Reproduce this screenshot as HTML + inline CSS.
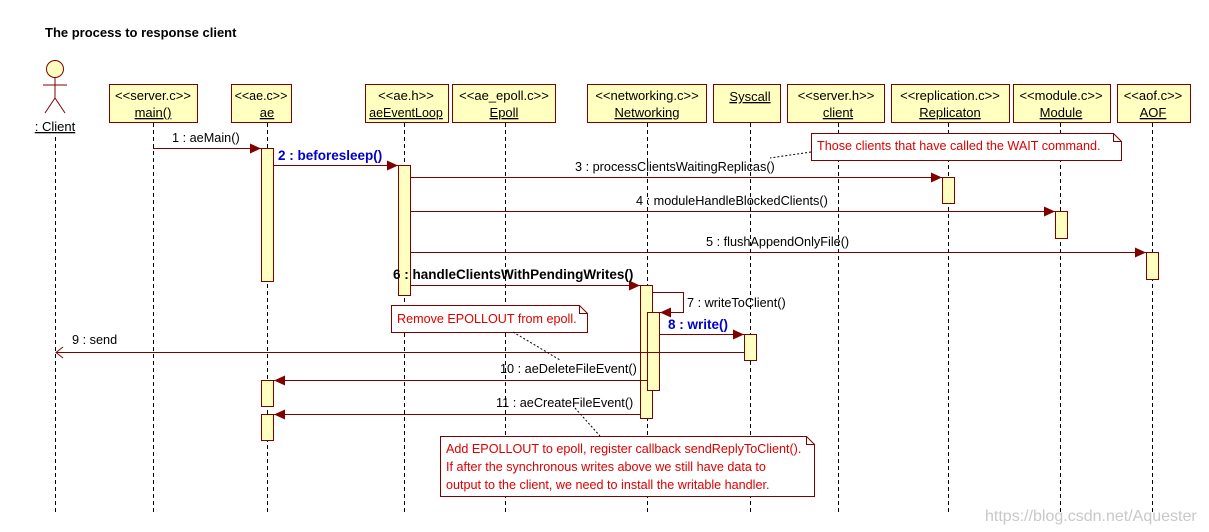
<!DOCTYPE html>
<html><head><meta charset="utf-8"><style>
html,body{margin:0;padding:0;background:#fff;}
svg{display:block;font-family:"Liberation Sans",sans-serif;}
</style></head><body>
<svg width="1209" height="532" viewBox="0 0 1209 532" xmlns="http://www.w3.org/2000/svg">
<defs>
<marker id="a" markerWidth="12" markerHeight="10" refX="11" refY="5" orient="auto" markerUnits="userSpaceOnUse"><path d="M0,0 L11,5 L0,10 Z" fill="#800000"/></marker>
</defs>
<text x="45" y="37" font-size="13" font-weight="bold" fill="#000">The process to response client</text>
<g stroke="#000" stroke-dasharray="4,3" stroke-width="1">
<line x1="55.5" y1="137" x2="55.5" y2="512"/>
<line x1="153.5" y1="123" x2="153.5" y2="512"/>
<line x1="267.5" y1="123" x2="267.5" y2="512"/>
<line x1="404.5" y1="123" x2="404.5" y2="512"/>
<line x1="505.5" y1="123" x2="505.5" y2="512"/>
<line x1="647.5" y1="123" x2="647.5" y2="512"/>
<line x1="750.5" y1="123" x2="750.5" y2="512"/>
<line x1="838.5" y1="123" x2="838.5" y2="512"/>
<line x1="948.5" y1="123" x2="948.5" y2="512"/>
<line x1="1060.5" y1="123" x2="1060.5" y2="512"/>
<line x1="1152.5" y1="123" x2="1152.5" y2="512"/>
</g>
<g stroke="#800000" fill="none" stroke-width="1">
<circle cx="55" cy="69" r="8.5" fill="#ffffc0"/>
<line x1="55" y1="78" x2="55" y2="98"/><line x1="43" y1="85" x2="67" y2="85"/>
<line x1="55" y1="98" x2="45" y2="113"/><line x1="55" y1="98" x2="65" y2="113"/>
</g>
<text x="55" y="131" font-size="13" text-anchor="middle" text-decoration="underline">: Client</text>
<g fill="#ffffc0" stroke="#800000" stroke-width="1">
<rect x="109.5" y="84.5" width="88" height="38"/>
<rect x="231.5" y="84.5" width="60" height="38"/>
<rect x="365.5" y="84.5" width="83" height="38"/>
<rect x="452.5" y="84.5" width="103" height="38"/>
<rect x="587.5" y="84.5" width="119" height="38"/>
<rect x="713.5" y="84.5" width="67" height="38"/>
<rect x="787.5" y="84.5" width="97" height="38"/>
<rect x="891.5" y="84.5" width="118" height="38"/>
<rect x="1013.5" y="84.5" width="97" height="38"/>
<rect x="1117.5" y="84.5" width="73" height="38"/>
</g>
<g font-size="13" text-anchor="middle" fill="#000">
<text x="153" y="100">&lt;&lt;server.c&gt;&gt;</text><text x="153" y="117" text-decoration="underline">main()</text>
<text x="261" y="100" font-size="12.5">&lt;&lt;ae.c&gt;&gt;</text><text x="267" y="117" text-decoration="underline">ae</text>
<text x="406" y="100">&lt;&lt;ae.h&gt;&gt;</text><text x="406" y="117" font-size="12.5" text-decoration="underline">aeEventLoop</text>
<text x="504" y="100">&lt;&lt;ae_epoll.c&gt;&gt;</text><text x="504" y="117" text-decoration="underline">Epoll</text>
<text x="647" y="100">&lt;&lt;networking.c&gt;&gt;</text><text x="647" y="117" text-decoration="underline">Networking</text>
<text x="750" y="101" text-decoration="underline">Syscall</text>
<text x="836" y="100">&lt;&lt;server.h&gt;&gt;</text><text x="838" y="117" text-decoration="underline">client</text>
<text x="950" y="100">&lt;&lt;replication.c&gt;&gt;</text><text x="950" y="117" text-decoration="underline">Replicaton</text>
<text x="1061" y="100">&lt;&lt;module.c&gt;&gt;</text><text x="1061" y="117" text-decoration="underline">Module</text>
<text x="1153" y="100">&lt;&lt;aof.c&gt;&gt;</text><text x="1153" y="117" text-decoration="underline">AOF</text>
</g>
<g fill="#ffffc0" stroke="#800000" stroke-width="1">
<rect x="261.5" y="148.5" width="12" height="133"/>
<rect x="398.5" y="165.5" width="12" height="130"/>
<rect x="942.5" y="177.5" width="12" height="26"/>
<rect x="1055.5" y="211.5" width="12" height="27"/>
<rect x="1146.5" y="252.5" width="12" height="27"/>
<rect x="640.5" y="285.5" width="12" height="133"/>
<rect x="647.5" y="312.5" width="12" height="78"/>
<rect x="744.5" y="334.5" width="12" height="26"/>
<rect x="261.5" y="380.5" width="12" height="26"/>
<rect x="261.5" y="414.5" width="12" height="26"/>
</g>
<g stroke="#800000" stroke-width="1" fill="none">
<line x1="153" y1="148.5" x2="261" y2="148.5" marker-end="url(#a)"/>
<line x1="273" y1="165.5" x2="398" y2="165.5" marker-end="url(#a)"/>
<line x1="410" y1="177.5" x2="942" y2="177.5" marker-end="url(#a)"/>
<line x1="410" y1="211.5" x2="1055" y2="211.5" marker-end="url(#a)"/>
<line x1="410" y1="252.5" x2="1146" y2="252.5" marker-end="url(#a)"/>
<line x1="410" y1="285.5" x2="640" y2="285.5" marker-end="url(#a)"/>
<polyline points="652,292.5 683.5,292.5 683.5,312.5 660,312.5" marker-end="url(#a)"/>
<line x1="659" y1="334.5" x2="744" y2="334.5" marker-end="url(#a)"/>
<line x1="744" y1="352.5" x2="56" y2="352.5"/>
<polyline points="63,347 56,352.5 63,358"/>
<line x1="647" y1="380.5" x2="274" y2="380.5" marker-end="url(#a)"/>
<line x1="640" y1="414.5" x2="274" y2="414.5" marker-end="url(#a)"/>
</g>
<g font-size="12.7" fill="#000">
<text x="172" y="142">1 : aeMain()</text>
<text x="278" y="160" fill="#0000cc" font-weight="bold" font-size="13.5">2 : beforesleep()</text>
<text x="575" y="171">3 : processClientsWaitingReplicas()</text>
<text x="636" y="205">4 : moduleHandleBlockedClients()</text>
<text x="706" y="246">5 : flushAppendOnlyFile()</text>
<text x="393" y="279" font-weight="bold" font-size="13.5">6 : handleClientsWithPendingWrites()</text>
<text x="687" y="307">7 : writeToClient()</text>
<text x="668" y="329" fill="#0000cc" font-weight="bold" font-size="13.5">8 : write()</text>
<text x="72" y="344">9 : send</text>
<text x="500" y="373">10 : aeDeleteFileEvent()</text>
<text x="496" y="407">11 : aeCreateFileEvent()</text>
</g>
<g stroke="#800000" stroke-width="1" fill="#fff">
<path d="M811.5,133.5 H1113.5 L1121.5,141.5 V160.5 H811.5 Z"/>
<path d="M1113.5,133.5 V141.5 H1121.5" fill="none"/>
<path d="M391.5,305.5 H579.5 L587.5,313.5 V332.5 H391.5 Z"/>
<path d="M579.5,305.5 V313.5 H587.5" fill="none"/>
<path d="M440.5,436.5 H806.5 L814.5,444.5 V496.5 H440.5 Z"/>
<path d="M806.5,436.5 V444.5 H814.5" fill="none"/>
</g>
<g stroke="#000" stroke-width="1" stroke-dasharray="2,2" fill="none">
<line x1="811" y1="152" x2="770" y2="158"/>
<line x1="513" y1="332" x2="560" y2="360"/>
<line x1="575" y1="408" x2="600" y2="436"/>
</g>
<g font-size="12.6" fill="#dd0000">
<text x="817" y="150">Those clients that have called the WAIT command.</text>
<text x="397" y="323">Remove EPOLLOUT from epoll.</text>
<text x="446" y="453">Add EPOLLOUT to epoll, register callback sendReplyToClient().</text>
<text x="446" y="471">If after the synchronous writes above we still have data to</text>
<text x="446" y="489">output to the client, we need to install the writable handler.</text>
</g>
<text x="985" y="521" font-size="16" fill="#c8c8c8">https://blog.csdn.net/Aquester</text>
</svg>
</body></html>
